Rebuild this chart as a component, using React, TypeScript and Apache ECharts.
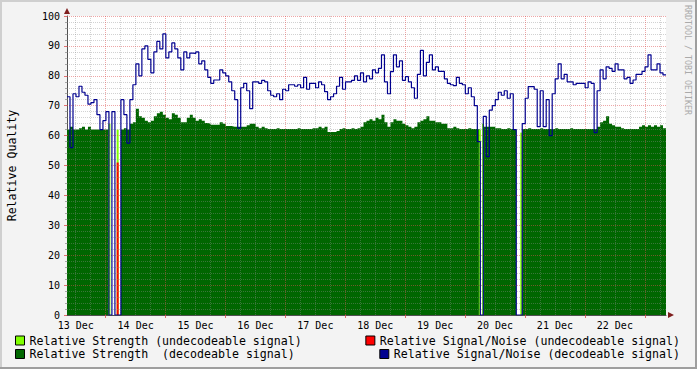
import React, { useEffect, useRef } from "react";
import * as echarts from "echarts";

// Time axis in hours counted from 13 Dec 00:00
const START_HOUR = 8.5;
const END_HOUR = 248.5;
const STEP_HOURS = 1.2;

const strengthDecodeable = [
  62, 63, 62, 62, 62.5, 63, 62, 63, 62, 62,
  62, 62, 62, 62, 0, 0, 0, 0, 62, 62.5,
  62, 64, 64.5, 69, 66.5, 66, 65, 64.5, 65, 66.5,
  67.5, 68, 67, 66, 65.5, 67.5, 67, 66, 64.5, 64.5,
  66, 67, 66, 65, 65.5, 65, 64.2, 64, 63.6, 63.6,
  63.6, 64.5, 64, 63.2, 63.2, 63, 63, 63, 63, 63,
  63.5, 64, 64, 63, 62.5, 63, 62.5, 62.2, 62.2, 62.2,
  62.5, 62.2, 62.2, 62.2, 62.2, 62.2, 62.2, 62.5, 62.2, 62.2,
  62.2, 62.2, 62.5, 62.5, 63, 62.5, 63, 61.2, 61.2, 61.2,
  61.5, 62.2, 62.5, 62.2, 62.2, 62.5, 62.2, 62.5, 63, 64.5,
  65, 65.5, 65, 66, 65.5, 67, 64.5, 63, 64.5, 65.5,
  65, 65, 64, 63.5, 63, 62.5, 63, 64.5, 65, 65.5,
  66.5, 65, 65, 64.5, 64.5, 64, 64, 62.5, 62.5, 63,
  62.5, 62.2, 62.2, 62.2, 62.5, 62.2, 62.2, 62, 0, 63,
  63, 63, 63, 62.5, 62.5, 62.2, 62.2, 62.5, 62.2, 62.2,
  0, 0, 62.2, 62.2, 62.5, 62.2, 62.2, 62.2, 62.5, 62.2,
  62.2, 62.2, 62.2, 62.5, 62.2, 62.2, 62.2, 62.2, 62.5, 62.2,
  62.2, 62.2, 62.2, 62.2, 62.2, 62.2, 62.2, 63, 64.5, 65,
  66.5, 64, 63.5, 63, 63, 62.5, 62.2, 62.2, 62.2, 62.2,
  62.2, 63, 63.5, 63, 63.5, 63, 63.5, 63, 63.5, 62.5,
];

const snrDecodeable = [
  73, 56, 74, 73, 76.5, 74.5, 73.5, 70.5, 71, 72,
  67, 62, 65, 68, 0, 68, 0, 0, 72, 67,
  57.5, 72, 77, 84, 80, 89, 90, 85.5, 81, 88,
  91.5, 89, 94, 86, 88, 91, 89, 86, 82, 88,
  86, 87.6, 87.5, 88, 84, 85, 82, 79.5, 77.5, 78.6,
  78.6, 82, 81, 80, 78, 75, 72, 62.5, 76, 77.5,
  75, 69, 78, 78, 77.5, 78.5, 78, 75, 73.5, 73,
  74, 72, 75.5, 75, 77, 77, 76.5, 77, 76, 79.5,
  75.5, 77.5, 77.5, 76, 78, 77, 74.7, 72, 73, 74,
  76.5, 79.5, 75.5, 78, 78, 78.5, 80, 78.5, 81, 78,
  80, 79, 82, 81, 82.5, 87, 78, 74, 81.4, 87,
  83, 85, 78.5, 79.7, 78, 76, 72.5, 80.5, 88.5, 80,
  84.5, 87, 82, 83, 81.5, 81.5, 79, 77.5, 77, 76.7,
  79.5, 77.5, 77, 74, 76, 73, 70, 58, 0, 66.4,
  53, 68.5, 70, 72, 74.5, 73.5, 75, 72.5, 74, 62,
  0, 0, 64, 72.5, 76.4, 76.4, 75.5, 63, 75, 63,
  72, 60, 74, 79, 84, 79, 80.5, 78, 78, 77,
  77.5, 77.5, 77.5, 76, 78, 77.5, 61, 75, 82, 79,
  83, 82.5, 81.5, 84, 82, 82, 79, 79.5, 77.5, 78.6,
  80.5, 80.5, 81.5, 83, 87, 82, 82, 84, 81, 80.3,
];

const strengthUndecodeableHours = [25.5, 28.8, 173.9, 175.2, 190.5];
const strengthUndecodeableValues = [64, 62, 62, 64, 61];
const snrUndecodeableHours = [28.8];
const snrUndecodeableValues = [51];

const dayLabels = ["13 Dec", "14 Dec", "15 Dec", "16 Dec", "17 Dec", "18 Dec", "19 Dec", "20 Dec", "21 Dec", "22 Dec"];
const dayLabelHours = [12, 36, 60, 84, 108, 132, 156, 180, 204, 228];
const dayStartHours = [24, 48, 72, 96, 120, 144, 168, 192, 216, 240];
const yTickValues = [0, 10, 20, 30, 40, 50, 60, 70, 80, 90, 100];

const NAMES = {
  strU: "Relative Strength (undecodeable signal)",
  snrU: "Relative Signal/Noise (undecodeable signal)",
  strD: "Relative Strength  (decodeable signal)",
  snrD: "Relative Signal/Noise (decodeable signal)",
};

const FONT = "DejaVu Sans Mono";
const C_GREEN = "#006600";
const C_LIME = "#80ff00";
const C_RED = "#ff0000";
const C_NAVY = "#00008f";
const C_MINOR = "rgba(143,143,143,0.4)";
const C_MAJOR = "rgba(222,79,79,0.5)";

const GRID = { left: 67, top: 16, width: 599, height: 299 };

function stepData(values: number[]) {
  const pts: number[][] = values.map((v, i) => [START_HOUR + STEP_HOURS * i, v]);
  pts.push([END_HOUR, values[values.length - 1]]);
  return pts;
}

const minorVGrid: number[] = [];
for (let h = 12; h < END_HOUR; h += 6) if (h % 24 !== 0) minorVGrid.push(h);
const minorHGrid: number[] = [];
for (let v = 2; v < 100; v += 2) if (v % 10 !== 0) minorHGrid.push(v);
const majorHGrid = yTickValues.filter((v) => v > 0);

const gridLines = [
  ...minorVGrid.map((h) => ({ xAxis: h, lineStyle: { color: C_MINOR } })),
  ...minorHGrid.map((v) => ({ yAxis: v, lineStyle: { color: C_MINOR } })),
  ...dayStartHours.map((h) => ({ xAxis: h, lineStyle: { color: C_MAJOR } })),
  ...majorHGrid.map((v) => ({ yAxis: v, lineStyle: { color: C_MAJOR } })),
];

function legendFor(name: string, pos: any) {
  return {
    ...pos,
    orient: "horizontal",
    padding: 0,
    itemWidth: 9,
    itemHeight: 9,
    icon: "rect",
    selectedMode: false,
    itemStyle: { borderColor: "#000", borderWidth: 1 },
    textStyle: { fontFamily: FONT, fontSize: 11.6, color: "#000" },
    data: [name],
  };
}

const option: any = {
  animation: false,
  backgroundColor: "#f3f3f3",
  textStyle: { fontFamily: FONT },
  grid: {
    ...GRID,
    show: true,
    backgroundColor: "#ffffff",
    borderWidth: 0,
    containLabel: false,
    outerBoundsMode: "none",
  },
  xAxis: {
    type: "value",
    min: START_HOUR,
    max: END_HOUR,
    axisLine: { show: true, onZero: false, lineStyle: { color: "#505050", width: 1 } },
    axisTick: {
      show: true,
      customValues: dayStartHours,
      length: 3,
      lineStyle: { color: "rgba(222,79,79,0.8)" },
    },
    axisLabel: {
      customValues: dayLabelHours,
      formatter: (v: number) => dayLabels[dayLabelHours.indexOf(v)] ?? "",
      margin: 5,
      fontFamily: FONT,
      fontSize: 10,
      color: "#000",
    },
    splitLine: { show: false },
  },
  yAxis: {
    type: "value",
    min: 0,
    max: 100,
    interval: 10,
    axisLine: { show: true, lineStyle: { color: "#505050", width: 1 } },
    axisTick: { show: true, length: 3, lineStyle: { color: "rgba(222,79,79,0.8)" } },
    minorTick: { show: true, splitNumber: 5, length: 2, lineStyle: { color: "rgba(143,143,143,0.75)" } },
    axisLabel: { margin: 7, fontFamily: FONT, fontSize: 10, color: "#000" },
    splitLine: { show: false },
    minorSplitLine: { show: false },
    name: "Relative Quality",
    nameLocation: "middle",
    nameRotate: 90,
    nameGap: 49,
    nameTextStyle: { fontFamily: FONT, fontSize: 11.6, color: "#000" },
  },
  legend: [
    legendFor(NAMES.strU, { left: 15, top: 334.5 }),
    legendFor(NAMES.snrU, { right: 17, top: 334.5 }),
    legendFor(NAMES.strD, { left: 15, top: 348 }),
    legendFor(NAMES.snrD, { right: 17, top: 348 }),
  ],
  series: [
    {
      name: NAMES.strD,
      type: "line",
      step: "end",
      symbol: "none",
      showSymbol: false,
      z: 2,
      data: stepData(strengthDecodeable),
      lineStyle: { width: 0, color: C_GREEN },
      itemStyle: { color: C_GREEN },
      areaStyle: { color: C_GREEN, opacity: 1 },
    },
    {
      name: NAMES.strU,
      type: "bar",
      z: 3,
      barWidth: 2,
      barGap: "-100%",
      data: strengthUndecodeableHours.map((h, i) => [h, strengthUndecodeableValues[i]]),
      itemStyle: { color: C_LIME },
    },
    {
      name: NAMES.snrU,
      type: "bar",
      z: 3.5,
      barWidth: 2,
      barGap: "-100%",
      data: snrUndecodeableHours.map((h, i) => [h, snrUndecodeableValues[i]]),
      itemStyle: { color: C_RED },
    },
    {
      name: NAMES.snrD,
      type: "line",
      step: "end",
      symbol: "none",
      showSymbol: false,
      z: 5,
      data: stepData(snrDecodeable),
      lineStyle: { width: 1.2, color: C_NAVY },
      itemStyle: { color: C_NAVY },
      markLine: {
        silent: true,
        animation: false,
        symbol: ["none", "none"],
        label: { show: false },
        emphasis: { disabled: true },
        lineStyle: { width: 1, type: [1, 1] },
        data: gridLines,
      },
    },
  ],
  graphic: [
    {
      type: "polygon",
      shape: { points: [[64, 14], [70, 14], [67, 8]] },
      style: { fill: "#7f1f1f" },
      z: 10,
    },
    {
      type: "polygon",
      shape: { points: [[668, 312], [668, 318], [674, 315]] },
      style: { fill: "#7f1f1f" },
      z: 10,
    },
    {
      type: "text",
      x: 688,
      y: 60,
      rotation: -Math.PI / 2,
      style: {
        text: "RRDTOOL / TOBI OETIKER",
        fill: "#aaaaaa",
        font: `8.3px "${FONT}"`,
        align: "center",
        verticalAlign: "middle",
      },
    },
    { type: "line", shape: { x1: 0, y1: 1, x2: 697, y2: 1 }, style: { stroke: "#cfcfcf", lineWidth: 2 } },
    { type: "line", shape: { x1: 1, y1: 0, x2: 1, y2: 369 }, style: { stroke: "#cfcfcf", lineWidth: 2 } },
    { type: "line", shape: { x1: 696, y1: 0, x2: 696, y2: 369 }, style: { stroke: "#9e9e9e", lineWidth: 2 } },
    { type: "line", shape: { x1: 0, y1: 368, x2: 697, y2: 368 }, style: { stroke: "#9e9e9e", lineWidth: 2 } },
  ],
};

export default function App() {
  const ref = useRef<HTMLDivElement>(null);
  useEffect(() => {
    document.body.style.margin = "0";
    const chart = echarts.init(ref.current!, null, { renderer: "svg" });
    chart.setOption(option);
    return () => chart.dispose();
  }, []);
  return <div ref={ref} style={{ width: 697, height: 369 }} />;
}
